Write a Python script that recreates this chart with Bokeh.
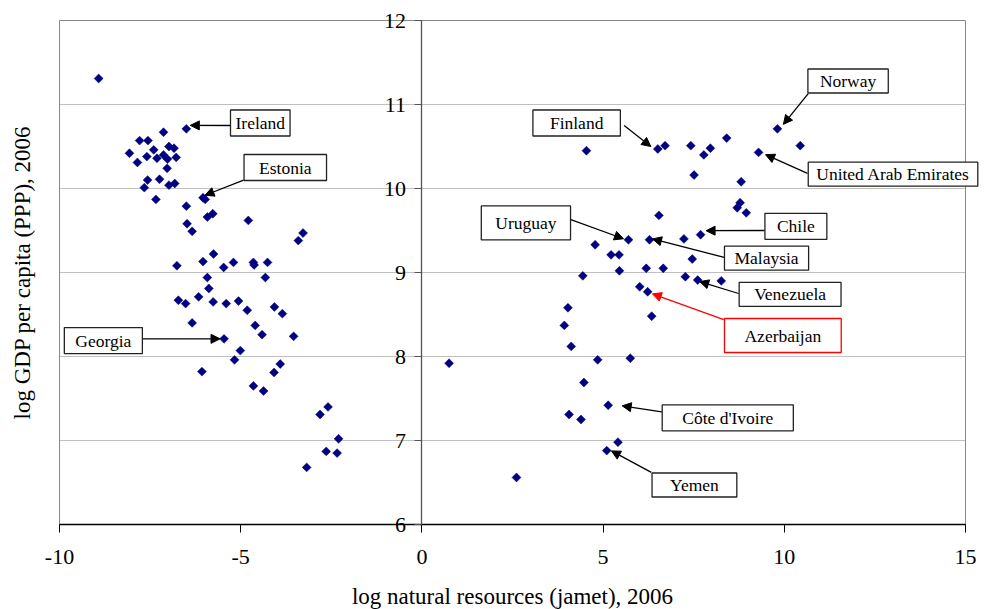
import math
from bokeh.plotting import figure
from bokeh.models import Range1d, Arrow, NormalHead, Label, FixedTicker
from bokeh.embed import file_html
from bokeh.resources import INLINE

# ---------------- data ----------------
# first 13 points are the labelled countries, in the order of label_names
label_names = ["Ireland", "Estonia", "Georgia", "Finland", "Norway",
               "United Arab Emirates", "Uruguay", "Chile", "Malaysia",
               "Venezuela", "Azerbaijan", "Côte d'Ivoire", "Yemen"]

nat_res = [
    -6.50, -6.04, -5.46, 6.51, 9.81, 9.29, 5.70, 7.69, 6.28, 7.61, 6.23, 5.14, 5.10,
    # negative side
    -8.92, -7.13, -7.79, -7.56, -8.07, -7.40, -6.98, -6.84, -7.59, -7.31, -7.13,
    -7.02, -6.78, -7.85, -7.03, -7.57, -7.24, -7.66, -6.98, -6.82, -5.98, -7.34,
    -6.50, -6.48, -6.34, -5.92, -5.77, -4.79, -3.41, -3.28, -6.76, -6.04, -5.75,
    -5.92, -5.47, -5.20, -4.65, -4.63, -4.26, -4.32, -5.88, -6.72, -6.52, -6.16,
    -5.76, -5.40, -5.06, -4.82, -4.07, -3.85, -6.34, -4.60, -4.41, -3.54, -5.01,
    -5.17, -6.07, -3.91, -4.08, -4.65, -4.37, -2.81, -2.59, -2.30, -2.64, -2.34,
    -3.18,
    # positive side
    4.54, 6.71, 7.42, 7.96, 7.78, 8.41, 10.44, 7.51, 8.81, 8.78, 8.70, 8.95, 6.54,
    7.23, 4.78, 5.22, 5.44, 7.46, 5.45, 6.19, 6.66, 4.44, 7.27, 8.26, 6.01, 4.03,
    3.93, 6.34, 4.12, 0.75, 4.85, 5.75, 4.47, 4.06, 4.39, 5.41, 2.61,
]
gdp = [
    10.71, 9.89, 8.21, 10.47, 10.71, 10.43, 9.39, 9.45, 9.39, 8.91, 8.77, 7.42, 6.88,
    # negative side
    11.31, 10.67, 10.57, 10.57, 10.42, 10.46, 10.50, 10.48, 10.38, 10.36, 10.40,
    10.35, 10.37, 10.31, 10.24, 10.10, 10.11, 10.01, 10.04, 10.06, 9.87, 9.87,
    9.79, 9.58, 9.49, 9.66, 9.70, 9.62, 9.38, 9.47, 9.08, 9.13, 9.22,
    8.94, 9.06, 9.12, 9.12, 9.09, 9.12, 8.94, 8.81, 8.67, 8.63, 8.71,
    8.65, 8.63, 8.66, 8.55, 8.59, 8.51, 8.40, 8.37, 8.26, 8.24, 8.07,
    7.96, 7.82, 7.91, 7.81, 7.65, 7.59, 7.31, 7.40, 7.02, 6.87, 6.85,
    6.68,
    # positive side
    10.45, 10.51, 10.51, 10.48, 10.40, 10.60, 10.51, 10.16, 10.08, 9.83, 9.77, 9.71, 9.68,
    9.40, 9.33, 9.21, 9.21, 9.16, 9.02, 9.05, 9.05, 8.96, 8.95, 8.90, 8.83, 8.58,
    8.37, 8.48, 8.12, 7.92, 7.96, 7.98, 7.69, 7.31, 7.25, 6.98, 6.56,
]

x_ticks = [-10, -5, 0, 5, 10, 15]
y_ticks = [6, 7, 8, 9, 10, 11, 12]
x_tick_text = {-10: "-10", -5: "-5", 0: "0", 5: "5", 10: "10", 15: "15"}

x_title = "log natural resources (jamet), 2006"
y_title = "log GDP per capita (PPP), 2006"

# ---------------- annotation layout ----------------
# name: (box centre x, box centre y, pad h, pad v, tail x, tail y, tip dx px, tip dy px, colour)
ann = {
    "Ireland": (-4.46, 10.78, 5, 3, -5.29, 10.75, 4, 3.5, "black"),
    "Estonia": (-3.77, 10.25, 15, 3, -4.92, 10.10, 2, 2.5, "black"),
    "Georgia": (-8.79, 8.19, 11, 3, -7.70, 8.21, -4, 0, "black"),
    "Finland": (4.27, 10.78, 17, 3, 5.58, 10.75, -7, 2.5, "black"),
    "Norway": (11.76, 11.28, 12, 2, 10.66, 11.13, 6, 4.5, "black"),
    "United Arab Emirates": (13.0, 10.17, 8, 2, 10.64, 10.18, 7, -2.3, "black"),
    "Uruguay": (2.87, 9.59, 14, 7, 4.11, 9.63, -5, 1, "black"),
    "Chile": (10.32, 9.55, 12, 3, 9.46, 9.50, 5.5, 4, "black"),
    "Malaysia": (9.51, 9.17, 10, 2, 8.34, 9.18, 3, 0.8, "black"),
    "Venezuela": (10.16, 8.74, 15, 2, 8.74, 8.75, 2, -1.5, "black"),
    "Azerbaijan": (9.96, 8.25, 20, 7, 8.33, 8.44, 4.7, -2, "#ff0000"),
    "Côte d'Ivoire": (8.44, 7.27, 20, 3, 6.62, 7.34, 14, -0.6, "black"),
    "Yemen": (7.52, 6.47, 18, 2, 6.33, 6.62, 4.7, -0.3, "black"),
}

FONT = "Liberation Serif"
X0, X1, Y0, Y1 = -10, 15, 6, 12          # plot-area extent
W, H = 985, 609                           # canvas
PL, PT, PW, PH = 59, 20, 906, 504         # plot-area placement on canvas
sx = PW / (X1 - X0)
sy = PH / (Y1 - Y0)
# the frame covers the whole canvas so that nothing is clipped
xr = Range1d(X0 - PL / sx, X0 + (W - PL) / sx)
yr = Range1d(Y1 - (H - PT) / sy, Y1 + PT / sy)

p = figure(width=W, height=H, x_range=xr, y_range=yr,
           output_backend="svg", toolbar_location=None,
           min_border=0, min_border_left=0, min_border_right=0,
           min_border_top=0, min_border_bottom=0)
p.background_fill_color = "white"
p.border_fill_color = "white"
p.outline_line_color = None
p.xgrid.visible = False
p.ygrid.visible = False

# horizontal gridlines inside the plot area
grid_y = [t for t in y_ticks if Y0 < t < Y1]
p.segment(x0=[X0] * len(grid_y), x1=[X1] * len(grid_y), y0=grid_y, y1=grid_y,
          line_color="#c0c0c0", line_width=1)
# plot-area border
p.quad(left=[X0], right=[X1], bottom=[Y0], top=[Y1], fill_color=None,
       line_color="#888888", line_width=1)

xa = p.xaxis[0]
xa.fixed_location = Y0
xa.bounds = (X0, X1)
xa.ticker = FixedTicker(ticks=x_ticks)
xa.major_label_overrides = x_tick_text
xa.axis_line_color = "black"
xa.axis_line_width = 1.3
xa.major_tick_line_color = "black"
xa.major_tick_out = 8
xa.major_tick_in = 0
xa.minor_tick_line_color = None
xa.major_label_text_font = FONT
xa.major_label_text_font_size = "22px"
xa.major_label_text_color = "black"
xa.major_label_standoff = 17

ya = p.yaxis[0]
ya.fixed_location = 0
ya.bounds = (Y0, Y1)
ya.ticker = FixedTicker(ticks=y_ticks)
ya.axis_line_color = "#555555"
ya.axis_line_width = 1.3
ya.major_tick_line_color = "#555555"
ya.major_tick_out = 7
ya.major_tick_in = 0
ya.minor_tick_line_color = None
ya.major_label_text_font = FONT
ya.major_label_text_font_size = "22px"
ya.major_label_text_color = "black"
ya.major_label_standoff = 9

# axis titles
p.add_layout(Label(x=(X0 + X1) / 2, y=Y0, y_offset=-71.5, text=x_title,
                   text_align="center", text_baseline="middle",
                   text_font=FONT, text_font_size="23px", text_color="black"))
p.add_layout(Label(x=X0, x_offset=-37, y=(Y0 + Y1) / 2, text=y_title,
                   angle=math.pi / 2, text_align="center",
                   text_baseline="middle", text_font=FONT,
                   text_font_size="23px", text_color="black"))

p.scatter(nat_res, gdp, marker="square", size=6.3, angle=0.785398,
          fill_color="#000080", line_color="#000080", line_width=0.5)

for i, name in enumerate(label_names):
    bx, by, ph, pv, tx, ty, ddx, ddy, col = ann[name]
    px, py = nat_res[i], gdp[i]
    p.add_layout(Arrow(x_start=tx, y_start=ty,
                       x_end=px + ddx / sx, y_end=py + ddy / sy,
                       line_color=col, line_width=1.3,
                       end=NormalHead(size=9, fill_color=col, line_color=col,
                                      line_width=1)))
    p.add_layout(Label(x=bx, y=by, text=name, text_align="center",
                       text_baseline="middle", text_font=FONT,
                       text_font_size="17.5px", text_color="black",
                       background_fill_color="white",
                       border_line_color=("#ff0000" if col != "black" else "#222222"),
                       border_line_width=1.3,
                       padding=dict(left=ph, right=ph, top=pv, bottom=pv)))

open("out.html", "w").write(file_html(p, INLINE))
